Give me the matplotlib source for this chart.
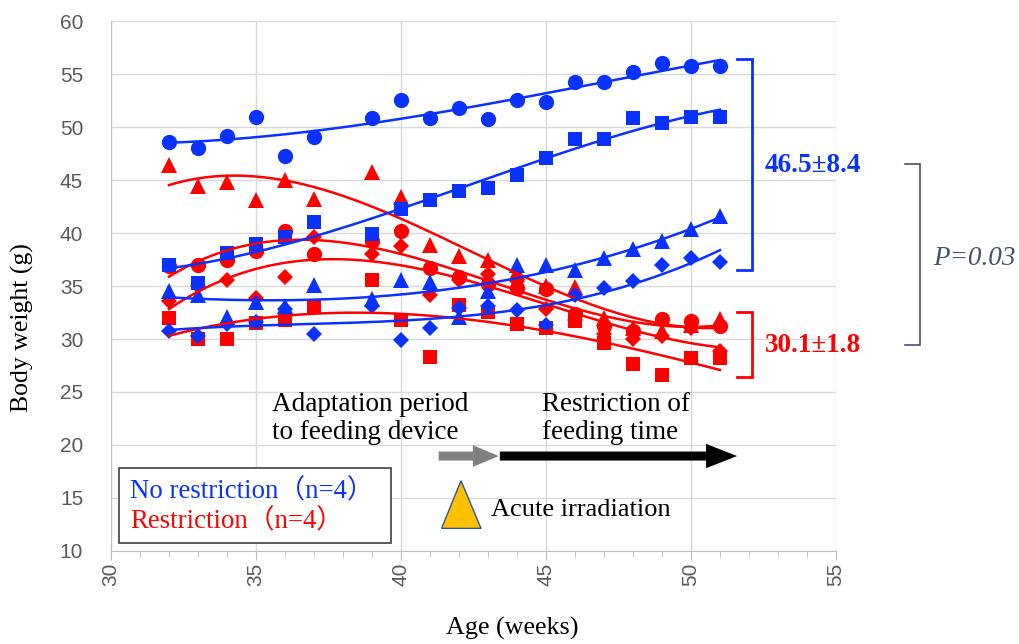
import numpy as np
import matplotlib.pyplot as plt
from matplotlib.patches import FancyArrow, Polygon, Rectangle

# weeks measured (no week 38)
weeks = [32, 33, 34, 35, 36, 37, 39, 40, 41, 42, 43, 44, 45, 46, 47, 48, 49, 50, 51]

# No restriction group (blue)
blue_circle = [48.6, 48.0, 49.2, 51.0, 47.3, 49.1, 50.9, 52.6, 50.9, 51.8, 50.8, 52.6, 52.4, 54.3, 54.3, 55.2, 56.1, 55.8, 55.8]
blue_square = [37.0, 35.3, 38.1, 39.0, 39.6, 41.1, 39.9, 42.3, 43.1, 44.0, 44.3, 45.5, 47.1, 48.9, 48.9, 50.9, 50.4, 51.0, 51.0]
blue_triangle = [34.5, 34.2, 32.1, 33.5, 33.1, 35.1, 33.8, 35.6, 35.4, 32.1, 34.5, 37.0, 37.0, 36.5, 37.7, 38.5, 39.3, 40.4, 41.6]
blue_diamond = [30.8, 30.3, 31.4, 31.6, 32.8, 30.5, 33.1, 29.9, 31.0, 32.9, 33.1, 32.7, 31.3, 34.2, 34.8, 35.5, 37.0, 37.7, 37.3]

# Restriction group (red)
red_circle = [36.9, 37.0, 37.5, 38.3, 40.2, 38.0, 39.3, 40.2, 36.7, 35.9, 35.2, 34.8, 34.7, 32.4, 31.2, 30.8, 31.9, 31.7, 31.2]
red_square = [32.0, 30.0, 30.0, 31.5, 31.8, 33.1, 35.6, 31.8, 28.3, 33.2, 32.6, 31.4, 31.0, 31.7, 29.6, 27.6, 26.6, 28.2, 28.2]
red_triangle = [46.4, 44.5, 44.8, 43.1, 45.0, 43.2, 45.8, 43.4, 38.9, 37.8, 37.5, 36.3, 35.0, 34.9, 32.0, 31.0, 30.8, 31.3, 31.9]
red_diamond = [33.6, 35.0, 35.6, 33.9, 35.9, 39.6, 38.0, 38.8, 34.2, 35.6, 36.1, 35.5, 32.8, 31.8, 30.5, 30.0, 30.3, 31.0, 28.9]

BLUE = '#0A32FF'
RED = '#FF0000'
SERIF = ['Liberation Serif', 'Noto Sans CJK JP']

fig = plt.figure(figsize=(10.19, 6.44), dpi=100)
ax = fig.add_axes([0.1089, 0.1447, 0.7115, 0.8221])

series = [
    (red_circle, RED, 'o', 11), (red_square, RED, 's', 10),
    (red_triangle, RED, '^', 11), (red_diamond, RED, 'D', 8.5),
    (blue_circle, BLUE, 'o', 11), (blue_square, BLUE, 's', 10),
    (blue_triangle, BLUE, '^', 11), (blue_diamond, BLUE, 'D', 8.5),
]
xs = np.linspace(weeks[0], weeks[-1], 200)
for vals, col, mk, ms in series:
    ax.plot(weeks, vals, linestyle='none', marker=mk, markersize=ms,
            color=col, markeredgewidth=0, zorder=3)
# 3rd-order polynomial trendlines
for vals, col, mk, ms in series:
    coef = np.polyfit(weeks, vals, 3)
    ax.plot(xs, np.polyval(coef, xs), color=col, lw=1.8, zorder=4)

ax.set_xlim(30, 55)
ax.set_ylim(10, 60)
ax.set_xticks(range(30, 56, 5))
ax.set_xticks(range(30, 56, 1), minor=True)
ax.set_yticks(range(10, 61, 5))
ax.grid(True, which='major', color='#D9D9D9', lw=1)
ax.set_axisbelow(True)
for s in ['top', 'right']:
    ax.spines[s].set_visible(False)
for s in ['left', 'bottom']:
    ax.spines[s].set_color('#BFBFBF')
ax.tick_params(axis='x', which='major', length=6.5, color='#BFBFBF', labelrotation=90,
               labelsize=15, labelcolor='#595959', pad=2)
ax.tick_params(axis='x', which='minor', length=4.2, color='#BFBFBF')
ax.tick_params(axis='y', length=0, labelsize=15, labelcolor='#595959', pad=20)
for lab in ax.get_xticklabels() + ax.get_yticklabels():
    lab.set_fontfamily('Liberation Sans')

fig.text(512 / 1019, 1 - 628 / 644, 'Age (weeks)', ha='center', va='center',
         fontsize=18.8, family=SERIF)
fig.text(22 / 1019, 1 - 328 / 644, 'Body weight (g)', ha='center', va='center',
         rotation=90, fontsize=18.5, family=SERIF)

# period annotations
ax.text(35.55, 22.5, 'Adaptation period\nto feeding device', ha='left', va='center',
        fontsize=19.5, family=SERIF, linespacing=1.2)
ax.text(44.86, 22.5, 'Restriction of\nfeeding time', ha='left', va='center',
        fontsize=19.5, family=SERIF, linespacing=1.2)
ax.add_patch(FancyArrow(41.3, 18.95, 2.07, 0, width=0.85, head_width=2.05,
                        head_length=0.89, length_includes_head=True,
                        color='#808080', lw=0, zorder=5))
ax.add_patch(FancyArrow(43.41, 18.95, 8.18, 0, width=0.85, head_width=2.3,
                        head_length=1.07, length_includes_head=True,
                        color='black', lw=0, zorder=5))
ax.add_patch(Polygon([[41.4, 12.12], [42.07, 16.62], [42.76, 12.12]], closed=True,
                     facecolor='#FFC000', edgecolor='#2F5597', lw=1, zorder=5))
ax.text(43.1, 13.85, 'Acute irradiation', ha='left', va='center', fontsize=19, family=SERIF)

# legend box
ax.add_patch(Rectangle((30.27, 10.7), 9.4, 7.15, facecolor='white', edgecolor='#404040',
                       lw=1.2, zorder=5))
ax.text(30.66, 15.55, 'No restriction（n=4）', color=BLUE, ha='left', va='center',
        fontsize=19.3, family=SERIF, zorder=6)
ax.text(30.66, 12.8, 'Restriction（n=4）', color=RED, ha='left', va='center',
        fontsize=19.3, family=SERIF, zorder=6)

# brackets
def bracket(x, x0, y_top, y_bot, color, lw):
    ax.plot([x0, x, x, x0], [y_top, y_top, y_bot, y_bot], color=color, lw=lw,
            clip_on=False, solid_joinstyle='miter', zorder=5)

bracket(52.1, 51.58, 56.44, 36.52, BLUE, 2)
bracket(52.1, 51.58, 32.58, 26.44, RED, 2)
bracket(57.9, 57.38, 46.5, 29.4, '#44546A', 1.2)
ax.text(52.55, 46.43, '46.5±8.4', color=BLUE, fontsize=19.5, fontweight='bold',
        family=SERIF, ha='left', va='center', clip_on=False)
ax.text(52.55, 29.43, '30.1±1.8', color=RED, fontsize=19.5, fontweight='bold',
        family=SERIF, ha='left', va='center', clip_on=False)
ax.text(58.34, 37.65, 'P=0.03', color='#44546A', fontsize=19.5, fontstyle='italic',
        family=SERIF, ha='left', va='center', clip_on=False)

fig.savefig('out.png', dpi=100)
